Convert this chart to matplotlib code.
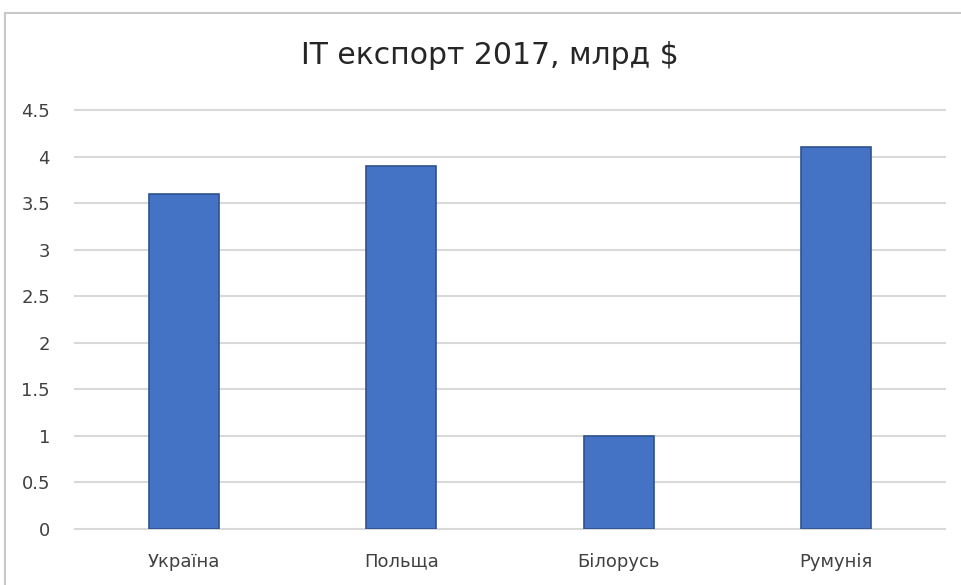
import matplotlib.pyplot as plt
from matplotlib.patches import Rectangle

countries = ["Україна", "Польща", "Білорусь", "Румунія"]
export_bn = [3.6, 3.9, 1.0, 4.1]
y_ticks = [0, 0.5, 1, 1.5, 2, 2.5, 3, 3.5, 4, 4.5]

plt.rcParams['font.family'] = ['DejaVu Sans']

fig = plt.figure(figsize=(9.61, 5.85), dpi=100)
W, H = 961, 585

# chart frame (cut off at right and bottom like the screenshot)
fig.patches.append(Rectangle((5 / W, -0.1), 1.2, 1 - 13 / H + 0.1,
                             transform=fig.transFigure, fill=False,
                             edgecolor="#c8c8c8", linewidth=1.5))

ax = fig.add_axes([75 / W, 1 - 529 / H, (945 - 75) / W, (529 - 110) / H])
x = range(len(countries))
ax.bar(x, export_bn, width=0.32, color="#4472C4", edgecolor="#2F528F",
       linewidth=1.2, zorder=3)

ax.set_xlim(-0.5, len(countries) - 0.5)
ax.set_ylim(0, 4.5)
ax.set_yticks(y_ticks)
ax.set_yticklabels([f"{t:g}" for t in y_ticks])
ax.set_xticks(list(x))
ax.set_xticklabels(countries)
ax.grid(axis="y", color="#d9d9d9", linewidth=1.5, zorder=0)
for line in ax.get_ygridlines():
    line.set_clip_on(False)
for s in ax.spines.values():
    s.set_visible(False)
ax.tick_params(length=0, colors="#404040", labelsize=13)
ax.tick_params(axis="y", pad=18)
ax.tick_params(axis="x", pad=17)

fig.text(490 / W, 1 - 55 / H, "IT експорт 2017, млрд $", ha="center", va="center",
         fontsize=21.5, color="#262626")

fig.savefig("out.png", dpi=100)
